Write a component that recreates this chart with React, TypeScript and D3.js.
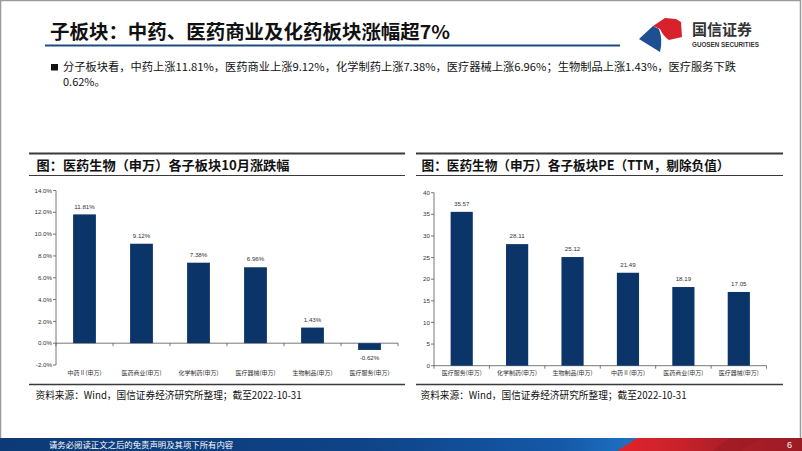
import React from "react";
import * as d3 from "d3";

const leftCategories = ["中药Ⅱ(申万)", "医药商业(申万)", "化学制药(申万)", "医疗器械(申万)", "生物制品(申万)", "医疗服务(申万)"];
const leftValues = [11.81, 9.12, 7.38, 6.96, 1.43, -0.62];
const leftTicks = [-2, 0, 2, 4, 6, 8, 10, 12, 14];

const rightCategories = ["医疗服务(申万)", "化学制药(申万)", "生物制品(申万)", "中药Ⅱ(申万)", "医药商业(申万)", "医疗器械(申万)"];
const rightValues = [35.57, 28.11, 25.12, 21.49, 18.19, 17.05];
const rightTicks = [0, 5, 10, 15, 20, 25, 30, 35, 40];

const mainTitle = "子板块：中药、医药商业及化药板块涨幅超7%";
const bulletLine1 = "分子板块看，中药上涨11.81%，医药商业上涨9.12%，化学制药上涨7.38%，医疗器械上涨6.96%；生物制品上涨1.43%，医疗服务下跌";
const bulletLine2 = "0.62%。";
const leftTitle = "图：医药生物（申万）各子板块10月涨跌幅";
const rightTitle = "图：医药生物（申万）各子板块PE（TTM，剔除负值）";
const sourceText = "资料来源：Wind，国信证券经济研究所整理；截至2022-10-31";
const footerText = "请务必阅读正文之后的免责声明及其项下所有内容";

const CJK = "'Noto Sans CJK SC', 'Noto Sans', sans-serif";
const NUM = "'Liberation Sans', Arial, sans-serif";
const BAR = "#0b3468";

type PanelProps = {
  categories: string[];
  values: number[];
  ticks: number[];
  yDomain: [number, number];
  yRange: [number, number];
  xRange: [number, number];
  fmtTick: (v: number) => string;
  fmtVal: (v: number) => string;
  labelY: number;
};

function BarPanel(p: PanelProps) {
  const y = d3.scaleLinear().domain(p.yDomain).range(p.yRange);
  const x = d3.scaleBand<string>().domain(p.categories).range(p.xRange).paddingInner(0.6).paddingOuter(0.3);
  const y0 = y(0);
  const axisX = p.xRange[0];
  const step = x.step();
  const boundaries = d3.range(p.categories.length + 1).map((i) => p.xRange[0] + i * step);
  return (
    <g>
      <line x1={axisX} x2={axisX} y1={y(p.yDomain[0])} y2={y(p.yDomain[1])} stroke="#555" strokeWidth={0.8} />
      {p.ticks.map((t) => (
        <g key={t}>
          <line x1={axisX - 3} x2={axisX} y1={y(t)} y2={y(t)} stroke="#555" strokeWidth={0.8} />
          <text x={axisX - 4} y={y(t)} dy="0.35em" textAnchor="end" fontSize={6.2} fontFamily={NUM} fill="#333">
            {p.fmtTick(t)}
          </text>
        </g>
      ))}
      <line x1={p.xRange[0]} x2={p.xRange[1]} y1={y0} y2={y0} stroke="#555" strokeWidth={0.8} />
      {boundaries.map((b, i) => (
        <line key={i} x1={b} x2={b} y1={y0} y2={y0 + 3} stroke="#555" strokeWidth={0.8} />
      ))}
      {p.categories.map((c, i) => {
        const v = p.values[i];
        const bx = x(c) as number;
        const top = y(Math.max(0, v));
        const bot = y(Math.min(0, v));
        const cx = bx + x.bandwidth() / 2;
        return (
          <g key={c}>
            <rect x={bx} y={top} width={x.bandwidth()} height={bot - top} fill={BAR} />
            <text x={cx} y={v >= 0 ? top - 8 : bot + 8} dy="0.35em" textAnchor="middle" fontSize={6.2} fontFamily={NUM} fill="#333">
              {p.fmtVal(v)}
            </text>
            <text x={cx} y={p.labelY} dy="0.35em" textAnchor="middle" fontSize={6} fontFamily={CJK} fill="#333">
              {c}
            </text>
          </g>
        );
      })}
    </g>
  );
}

function PanelFrame({ x1, x2, title, tx, titleLen }: { x1: number; x2: number; title: string; tx: number; titleLen: number }) {
  return (
    <g>
      <line x1={x1} x2={x2} y1={153.5} y2={153.5} stroke="#3a3a3a" strokeWidth={1.8} />
      <text x={tx} y={165.5} dy="0.36em" fontSize={13} fontWeight={700} fontFamily={CJK} fill="#111" textLength={titleLen} lengthAdjust="spacingAndGlyphs">
        {title}
      </text>
      <line x1={x1} x2={x2} y1={175.5} y2={175.5} stroke="#3a3a3a" strokeWidth={1.2} />
      <line x1={x1} x2={x2} y1={384.5} y2={384.5} stroke="#3a3a3a" strokeWidth={1.5} />
      <text x={tx - 1} y={395} dy="0.36em" fontSize={10} fontFamily={CJK} fill="#111" textLength={266} lengthAdjust="spacingAndGlyphs">
        {sourceText}
      </text>
    </g>
  );
}

export default function App() {
  return (
    <svg width={802} height={451} style={{ position: "absolute", left: 0, top: 0, background: "#fff" }}>
      <defs>
        <linearGradient id="blueG" x1="0" x2="1" y1="0" y2="0">
          <stop offset="0" stopColor="#0c3a76" />
          <stop offset="0.45" stopColor="#0f4387" />
          <stop offset="0.7" stopColor="#1559a8" />
          <stop offset="0.8" stopColor="#1f74c6" />
        </linearGradient>
        <linearGradient id="redG" x1="0" x2="1" y1="0" y2="0">
          <stop offset="0" stopColor="#e3222a" />
          <stop offset="0.35" stopColor="#c8222b" />
          <stop offset="0.55" stopColor="#b01f28" />
          <stop offset="1" stopColor="#9a1b24" />
        </linearGradient>
      </defs>
      <rect x={0.5} y={0.5} width={800} height={450} fill="none" stroke="#9a9a9a" strokeWidth={1.5} />

      <text x={50} y={32} dy="0.36em" fontSize={19} fontWeight={700} fontFamily={CJK} fill="#111" textLength={400} lengthAdjust="spacingAndGlyphs">
        {mainTitle}
      </text>
      <line x1={45} x2={620} y1={45.5} y2={45.5} stroke="#1f4a80" strokeWidth={2.2} />

      <path d="M639,39 L653,26 L659,29 Q663,40 660,52 Z" fill="#1d4f91" />
      <path d="M653,26 L665,18 L676,19 L681,22 L682,37 L669,40 Q663,36 660,29 Z" fill="#d7222b" />
      <text x={692} y={30} dy="0.36em" fontSize={15} fontWeight={700} fontFamily={CJK} fill="#333">
        国信证券
      </text>
      <text x={692} y={44.5} dy="0.36em" fontSize={6.3} fontWeight={700} fontFamily={NUM} fill="#333">
        GUOSEN SECURITIES
      </text>

      <rect x={51} y={64} width={7} height={6.5} fill="#111" />
      <text x={63} y={67.5} dy="0.36em" fontSize={11} fontFamily={CJK} fill="#111" textLength={673} lengthAdjust="spacingAndGlyphs">
        {bulletLine1}
      </text>
      <text x={63} y={82.5} dy="0.36em" fontSize={11} fontFamily={CJK} fill="#111">
        {bulletLine2}
      </text>

      <PanelFrame x1={29} x2={405} title={leftTitle} tx={36.5} titleLen={253} />
      <PanelFrame x1={416} x2={783} title={rightTitle} tx={421.5} titleLen={308} />

      <BarPanel
        categories={leftCategories}
        values={leftValues}
        ticks={leftTicks}
        yDomain={[-2, 14]}
        yRange={[365, 190.5]}
        xRange={[56, 398]}
        fmtTick={(v) => v.toFixed(1) + "%"}
        fmtVal={(v) => v.toFixed(2) + "%"}
        labelY={372.7}
      />
      <BarPanel
        categories={rightCategories}
        values={rightValues}
        ticks={rightTicks}
        yDomain={[0, 40]}
        yRange={[365.7, 192.7]}
        xRange={[434, 766.5]}
        fmtTick={(v) => String(v)}
        fmtVal={(v) => v.toFixed(2)}
        labelY={372.7}
      />

      <rect x={0} y={438} width={802} height={13} fill="url(#blueG)" />
      <path d="M617,451 L637,438 L802,438 L802,451 Z" fill="url(#redG)" />
      <path d="M712,451 L730,438 L760,438 L742,451 Z" fill="#8f1a22" opacity={0.35} />
      <text x={49} y={444.5} dy="0.36em" fontSize={8.4} fontFamily={CJK} fill="#fff">
        {footerText}
      </text>
      <text x={787} y={444.5} dy="0.36em" fontSize={9} fontFamily={NUM} fill="#fff">
        6
      </text>
    </svg>
  );
}
